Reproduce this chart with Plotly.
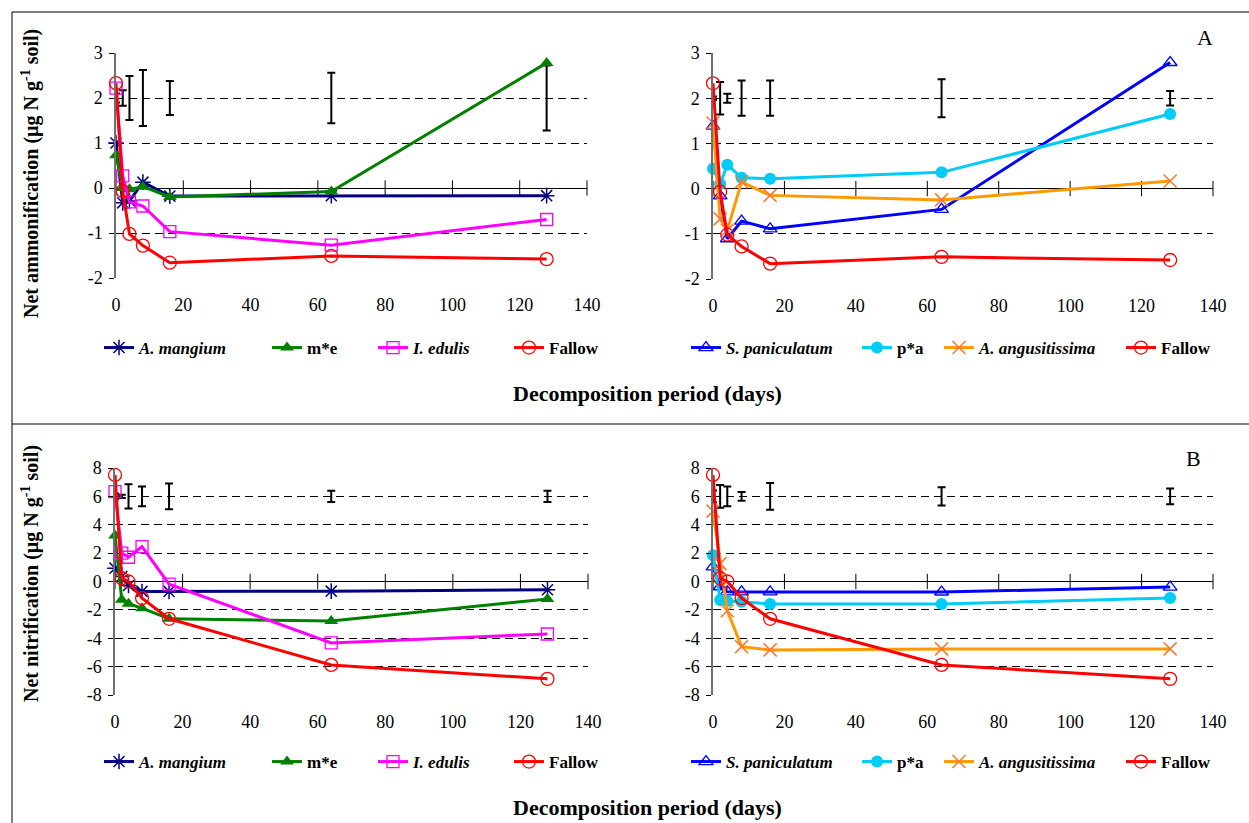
import plotly.graph_objects as go

# ---------------- data ----------------
days = [0, 2, 4, 8, 16, 64, 128]
x_ticks = [0, 20, 40, 60, 80, 100, 120, 140]
x_tick_text = ["0", "20", "40", "60", "80", "100", "120", "140"]
amm_ticks = [-2, -1, 0, 1, 2, 3]
amm_tick_text = ["-2", "-1", "0", "1", "2", "3"]
nit_ticks = [-8, -6, -4, -2, 0, 2, 4, 6, 8]
nit_tick_text = ["-8", "-6", "-4", "-2", "0", "2", "4", "6", "8"]

# Net ammonification
amm_mangium = [1.00, -0.33, -0.29, 0.13, -0.18, -0.17, -0.17]
amm_me = [0.73, 0.00, -0.03, 0.03, -0.20, -0.08, 2.78]
amm_edulis = [2.22, 0.27, -0.31, -0.40, -0.97, -1.27, -0.70]
amm_fallow = [2.33, -0.07, -1.02, -1.28, -1.66, -1.51, -1.58]
amm_panic = [1.38, -0.16, -1.11, -0.72, -0.89, -0.46, 2.79]
amm_pa = [0.44, 0.10, 0.53, 0.24, 0.22, 0.36, 1.65]
amm_angus = [1.45, -0.67, -0.92, 0.15, -0.15, -0.25, 0.17]
amm_bar_level = 2
amm_err_left = [0.10, 0.17, 0.49, 0.62, 0.38, 0.56, 0.72]
amm_err_right = [0.04, 0.36, 0.10, 0.39, 0.39, 0.42, 0.16]

# Net nitrification
nit_mangium = [0.94, 0.35, -0.28, -0.70, -0.70, -0.68, -0.58]
nit_me = [3.24, -1.29, -1.57, -1.88, -2.63, -2.78, -1.23]
nit_edulis = [6.34, 2.00, 1.71, 2.46, -0.19, -4.33, -3.70]
nit_fallow = [7.51, 0.23, 0.00, -1.17, -2.63, -5.88, -6.86]
nit_panic = [1.03, -0.37, -0.73, -0.73, -0.73, -0.74, -0.39]
nit_pa = [1.85, -1.31, -1.38, -1.43, -1.59, -1.58, -1.16]
nit_angus = [4.96, 1.26, -2.06, -4.59, -4.82, -4.75, -4.75]
nit_bar_level = 6
nit_err_left = [0.20, 0.12, 0.85, 0.70, 0.90, 0.40, 0.40]
nit_err_right = [0.42, 0.80, 0.70, 0.30, 0.95, 0.65, 0.55]

# ---------------- layout helpers ----------------
W, H = 1249, 823
FONT = "Liberation Serif"


def px(x):
    return x / W


def py(y):
    return 1 - y / H


styles = {
    "mangium": dict(name="<b><i>A. mangium</i></b>", color="#000080",
                    marker=dict(symbol="asterisk-open", size=13, color="#000080",
                                line=dict(width=1.5, color="#000080"))),
    "me": dict(name="<b>m*e</b>", color="#008000",
               marker=dict(symbol="triangle-up", size=12, color="#008000")),
    "edulis": dict(name="<b><i>I. edulis</i></b>", color="#FF00FF",
                   marker=dict(symbol="square-open", size=12, color="#FF00FF",
                               line=dict(width=1.3, color="#FF00FF"))),
    "fallow": dict(name="<b>Fallow</b>", color="#FF0000",
                   marker=dict(symbol="circle-open", size=13, color="#FF0000",
                               line=dict(width=1.3, color="#FF0000"))),
    "panic": dict(name="<b><i>S. paniculatum</i></b>", color="#0000FF",
                  marker=dict(symbol="triangle-up-open", size=12, color="#0000FF",
                              line=dict(width=1.3, color="#0000FF"))),
    "pa": dict(name="<b>p*a</b>", color="#00CCF5",
               marker=dict(symbol="circle", size=12, color="#00CCF5")),
    "angus": dict(name="<b><i>A. angusitissima</i></b>", color="#FF9900",
                  marker=dict(symbol="x-thin-open", size=13, color="#FF7733",
                              line=dict(width=1.5, color="#FF7733"))),
}

panels = [
    dict(ax="", xd=(116, 587), yd=(53, 278), yr=(-2, 3), tv=amm_ticks, tt=amm_tick_text,
         series=[("mangium", amm_mangium), ("me", amm_me), ("edulis", amm_edulis), ("fallow", amm_fallow)],
         lvl=amm_bar_level, err=amm_err_left, leg_x=[103, 271, 377, 513], leg_y=348),
    dict(ax="2", xd=(713, 1213), yd=(53, 279), yr=(-2, 3), tv=amm_ticks, tt=amm_tick_text,
         series=[("panic", amm_panic), ("pa", amm_pa), ("angus", amm_angus), ("fallow", amm_fallow)],
         lvl=amm_bar_level, err=amm_err_right, leg_x=[690, 861, 943, 1125], leg_y=348),
    dict(ax="3", xd=(115, 588), yd=(468, 695), yr=(-8, 8), tv=nit_ticks, tt=nit_tick_text,
         series=[("mangium", nit_mangium), ("me", nit_me), ("edulis", nit_edulis), ("fallow", nit_fallow)],
         lvl=nit_bar_level, err=nit_err_left, leg_x=[103, 271, 377, 513], leg_y=762),
    dict(ax="4", xd=(713, 1213), yd=(468, 695), yr=(-8, 8), tv=nit_ticks, tt=nit_tick_text,
         series=[("panic", nit_panic), ("pa", nit_pa), ("angus", nit_angus), ("fallow", nit_fallow)],
         lvl=nit_bar_level, err=nit_err_right, leg_x=[690, 861, 943, 1125], leg_y=762),
]

fig = go.Figure()
layout = dict(
    width=W, height=H, margin=dict(l=0, r=0, t=0, b=0, pad=0, autoexpand=False),
    paper_bgcolor="white", plot_bgcolor="white",
    font=dict(family=FONT, size=16, color="black"),
    showlegend=True, template="none",
)

legend_idx = 0
for p in panels:
    xa = "x" + p["ax"]
    ya = "y" + p["ax"]
    fig.add_trace(go.Scatter(
        x=days, y=[p["lvl"]] * len(days), mode="markers", xaxis=xa, yaxis=ya,
        marker=dict(size=1, color="rgba(0,0,0,0)"),
        error_y=dict(type="data", array=p["err"], visible=True, color="black",
                     thickness=2, width=4),
        showlegend=False, hoverinfo="skip", cliponaxis=False))
    fig.add_trace(go.Scatter(
        x=x_ticks, y=[0] * len(x_ticks), mode="markers", xaxis=xa, yaxis=ya,
        marker=dict(symbol="line-ns", size=11, line=dict(width=1, color="black")),
        showlegend=False, hoverinfo="skip", cliponaxis=False))
    for i, (key, vals) in enumerate(p["series"]):
        st = styles[key]
        legend_idx += 1
        lname = "legend" if legend_idx == 1 else f"legend{legend_idx}"
        fig.add_trace(go.Scatter(
            x=days, y=vals, mode="lines+markers", name=st["name"], xaxis=xa, yaxis=ya,
            line=dict(color=st["color"], width=3), marker=st["marker"],
            cliponaxis=False, legend=lname))
        layout[lname] = dict(
            x=px(p["leg_x"][i] - 4), y=py(p["leg_y"]), xanchor="left", yanchor="middle",
            orientation="h", bgcolor="rgba(0,0,0,0)", borderwidth=0,
            font=dict(family=FONT, size=17, color="black"), itemwidth=30)

    layout["xaxis" + p["ax"]] = dict(
        domain=[px(p["xd"][0]), px(p["xd"][1])], range=[0, 140], anchor=ya,
        tickvals=x_ticks, ticktext=x_tick_text, showgrid=False, zeroline=False,
        showline=False, ticks="", ticklabelstandoff=14, automargin=False,
        tickfont=dict(family=FONT, size=18, color="black"))
    layout["yaxis" + p["ax"]] = dict(
        domain=[py(p["yd"][1]), py(p["yd"][0])], range=list(p["yr"]), anchor=xa,
        tickvals=p["tv"], ticktext=p["tt"], showgrid=True, gridcolor="black",
        griddash="8px,5px", gridwidth=1, zeroline=True, zerolinecolor="black",
        zerolinewidth=1, showline=True, linecolor="#707070", linewidth=1.5,
        ticks="outside", ticklen=5, tickcolor="black", ticklabelstandoff=3,
        automargin=False, tickfont=dict(family=FONT, size=18, color="black"))

YTITLE_FONT = dict(family=FONT, size=20, color="black")
XTITLE_FONT = dict(family=FONT, size=22, color="black")
annotations = [
    dict(text="<b>Net ammonification (µg N g<sup>-1</sup> soil)</b>", x=px(30), y=py(174),
         xref="paper", yref="paper", textangle=-90, showarrow=False,
         xanchor="center", yanchor="middle", font=YTITLE_FONT),
    dict(text="<b>Net nitrification (µg N g<sup>-1</sup> soil)</b>", x=px(30), y=py(574),
         xref="paper", yref="paper", textangle=-90, showarrow=False,
         xanchor="center", yanchor="middle", font=YTITLE_FONT),
    dict(text="<b>Decomposition period (days)</b>", x=px(647), y=py(394),
         xref="paper", yref="paper", showarrow=False,
         xanchor="center", yanchor="middle", font=XTITLE_FONT),
    dict(text="<b>Decomposition period (days)</b>", x=px(647), y=py(807),
         xref="paper", yref="paper", showarrow=False,
         xanchor="center", yanchor="middle", font=XTITLE_FONT),
    dict(text="A", x=px(1205), y=py(38), xref="paper", yref="paper", showarrow=False,
         xanchor="center", yanchor="middle", font=dict(family=FONT, size=22, color="black")),
    dict(text="B", x=px(1193), y=py(458), xref="paper", yref="paper", showarrow=False,
         xanchor="center", yanchor="middle", font=dict(family=FONT, size=22, color="black")),
]
layout["annotations"] = annotations

layout["shapes"] = [
    dict(type="rect", xref="paper", yref="paper", x0=px(12), x1=px(1270), y0=py(840), y1=py(12),
         line=dict(color="black", width=1)),
    dict(type="line", xref="paper", yref="paper", x0=px(12), x1=px(1270), y0=py(424), y1=py(424),
         line=dict(color="black", width=1)),
]

fig.update_layout(**layout)
fig.write_html("out.html")
